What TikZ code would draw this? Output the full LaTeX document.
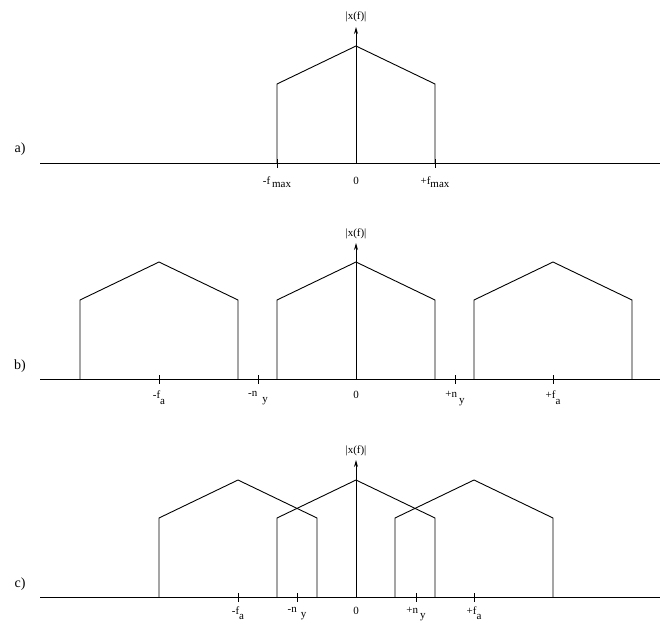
\documentclass[tikz,border=0pt]{standalone}
\usepackage{fontspec}
\setmainfont{Liberation Serif}
\usetikzlibrary{arrows.meta}
\tikzset{
  curve/.style={line width=0.9pt, line join=miter},
  axisline/.style={line width=0.9pt},
  yarrow/.style={line width=0.9pt, -{Stealth[length=7pt,width=4pt]}},
  tickmark/.style={line width=0.9pt},
  ticklabel/.style={font=\fontsize{11}{13}\selectfont, inner sep=0pt, anchor=north},
  panellabel/.style={font=\fontsize{14}{16}\selectfont, inner sep=0pt},
  ylabel/.style={font=\fontsize{11}{13}\selectfont, inner sep=0pt},
}
\newcommand{\specbox}[2]{% center x, axis y
  \draw[curve] (#1-79,#2) -- (#1-79,#2-79) -- (#1,#2-117) -- (#1+79,#2-79) -- (#1+79,#2);}
\newcommand{\tickat}[2]{\draw[tickmark] (#1,#2-4) -- (#1,#2+5);}
\newcommand{\lowered}[2]{\raisebox{-#1pt}{#2}}
\begin{document}
\begin{tikzpicture}[x=1pt,y=-1pt]
\useasboundingbox (0,0) rectangle (660,623);
% ---------- a ----------
\node[panellabel] (la) at (20,149) {a)};
\draw[axisline] (40,163) -- (660,163);
\specbox{356}{163}
\coordinate (a0) at (356,163);
\coordinate (atop) at (356,27);
\draw[yarrow] (a0) -- (atop);
\node[ylabel] (xa) at (356,17) {|x(f)|};
\tickat{277}{163}
\tickat{435}{163}
\node[ticklabel] (am) at (277,177) {-f\,\lowered{3}{max}};
\node[ticklabel] (a0l) at (356,177) {0};
\node[ticklabel] (ap) at (435,177) {+f\lowered{3}{max}};
% ---------- b ----------
\node[panellabel] (lb) at (20,366) {b)};
\draw[axisline] (40,379) -- (660,379);
\specbox{159}{379}
\specbox{356}{379}
\specbox{553}{379}
\coordinate (b0) at (356,379);
\coordinate (btop) at (356,243);
\draw[yarrow] (b0) -- (btop);
\node[ylabel] (xb) at (356,234) {|x(f)|};
\foreach \t in {159,258,455,553} {\tickat{\t}{379}}
\node[ticklabel] (bfm) at (159,391) {-f\lowered{6}{a}};
\node[ticklabel] (bnm) at (258,391) {-n\hspace{5pt}\lowered{6}{y}};
\node[ticklabel] (b0l) at (356,391) {0};
\node[ticklabel] (bnp) at (455,391) {+n\hspace{2pt}\lowered{6}{y}};
\node[ticklabel] (bfp) at (553,391) {+f\lowered{6}{a}};
% ---------- c ----------
\node[panellabel] (lc) at (20,584) {c)};
\draw[axisline] (40,597) -- (660,597);
\specbox{238}{597}
\specbox{356}{597}
\specbox{474}{597}
\coordinate (c0) at (356,597);
\coordinate (ctop) at (356,460);
\draw[yarrow] (c0) -- (ctop);
\node[ylabel] (xc) at (356,451) {|x(f)|};
\foreach \t in {238,297,416,474} {\tickat{\t}{597}}
\node[ticklabel] (cfm) at (238,607) {-f\lowered{5}{a}};
\node[ticklabel] (cnm) at (297,607) {-n\hspace{4pt}\lowered{5}{y}};
\node[ticklabel] (c0l) at (356,607) {0};
\node[ticklabel] (cnp) at (416,607) {+n\hspace{2pt}\lowered{5}{y}};
\node[ticklabel] (cfp) at (474,607) {+f\lowered{5}{a}};
\end{tikzpicture}
\end{document}
